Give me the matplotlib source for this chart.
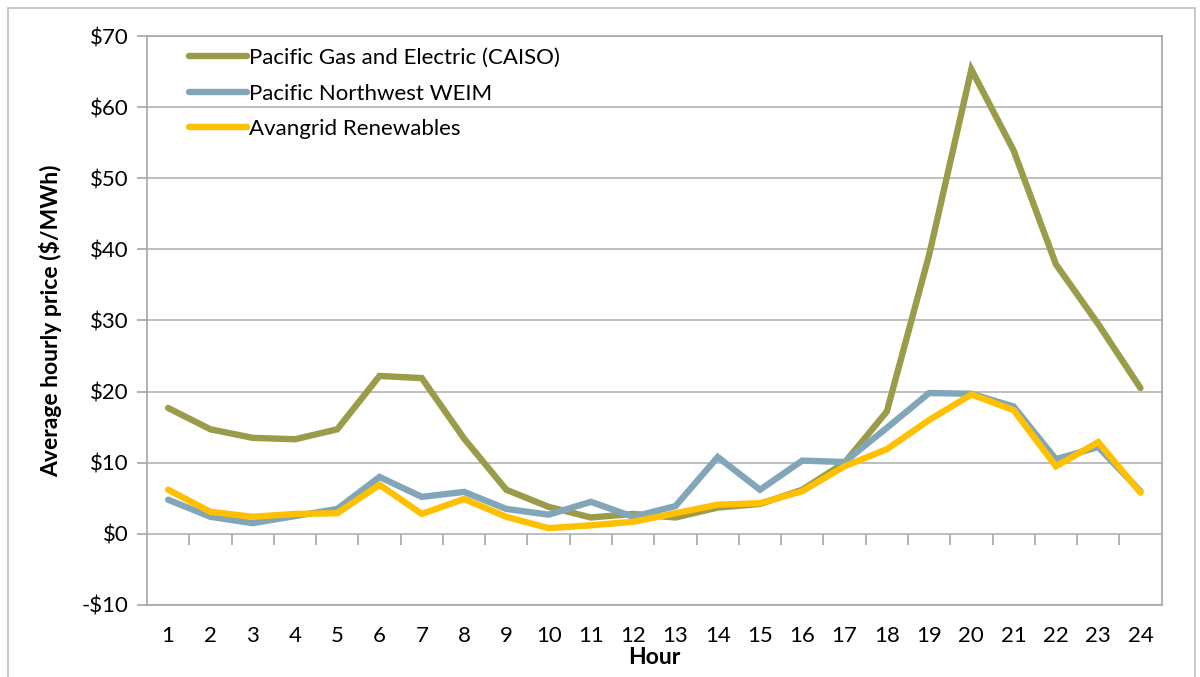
import matplotlib.pyplot as plt
from matplotlib.patches import Rectangle
import numpy as np

plt.rcParams['font.family'] = ['Lato', 'DejaVu Sans']

hours = list(range(1, 25))
pge = [17.7, 14.7, 13.5, 13.3, 14.7, 22.2, 21.9, 13.4, 6.2, 3.8, 2.3, 2.8,
       2.3, 3.7, 4.2, 6.2, 10.0, 17.2, 39.2, 65.3, 53.9, 37.9, 29.5, 20.5]
weim = [4.8, 2.4, 1.5, 2.5, 3.5, 8.0, 5.2, 5.9, 3.5, 2.7, 4.5, 2.4,
        3.9, 10.8, 6.2, 10.3, 10.1, 14.9, 19.8, 19.7, 17.9, 10.5, 12.2, 6.0]
avangrid = [6.2, 3.1, 2.4, 2.8, 2.9, 6.9, 2.8, 4.9, 2.4, 0.8, 1.2, 1.7,
            2.9, 4.1, 4.3, 6.0, 9.5, 11.9, 16.0, 19.6, 17.4, 9.5, 12.9, 5.8]
series_names = ['Pacific Gas and Electric (CAISO)', 'Pacific Northwest WEIM',
                'Avangrid Renewables']
colors = ['#9A9C4A', '#82A6B9', '#FFC000']
yticks = list(range(-10, 80, 10))
ytick_labels = ['-$10', '$0', '$10', '$20', '$30', '$40', '$50', '$60', '$70']

fig = plt.figure(figsize=(12, 6.77), dpi=100)
ax = fig.add_axes([0.1225, 0.1064, 0.8455, 0.8404])

# outer chart border
fig.patches.append(Rectangle((8 / 1200, -0.01), 1187 / 1200, 1 - 8 / 677 + 0.01,
                             transform=fig.transFigure, fill=False,
                             edgecolor='#BFBFBF', linewidth=1.2))

for vals, name, c in zip([pge, weim, avangrid], series_names, colors):
    ax.plot(hours, vals, color=c, linewidth=4.6, label=name,
            solid_capstyle='round', solid_joinstyle='miter')

ax.set_xlim(0.5, 24.5)
ax.set_ylim(-10, 70)
ax.set_yticks(yticks)
ax.set_yticklabels(ytick_labels)
ax.set_xticks(hours)
ax.set_xticklabels([str(h) for h in hours])
ax.grid(axis='y', color='#B3B3B3', linewidth=1.2)
ax.set_axisbelow(True)
ax.tick_params(axis='x', length=0, labelsize=16, pad=15)
ax.tick_params(axis='y', length=7, width=1.2, color='#A6A6A6', labelsize=16, pad=6)
for s in ax.spines.values():
    s.set_color('#A6A6A6')
    s.set_linewidth(1.2)

# category tick marks hanging from the $0 line
sec = ax.secondary_xaxis(10 / 80)
sec.set_xticks(np.arange(1.5, 24.5, 1))
sec.tick_params(axis='x', direction='out', length=8, width=1.2,
                color='#A6A6A6', labelbottom=False, labeltop=False,
                bottom=True, top=False)
sec.spines['bottom'].set_visible(False)
sec.spines['top'].set_visible(False)

ax.set_xlabel('Hour', fontsize=16.5, fontweight='bold', labelpad=1)
ax.set_ylabel('Average hourly price ($/MWh)', fontsize=16.5, fontweight='bold',
              labelpad=14)

ax.legend(loc='upper left', bbox_to_anchor=(0.022, 1.014), frameon=False,
          fontsize=16, handlelength=2.6, handletextpad=0.08, labelspacing=0.7)

fig.savefig('out.png', dpi=100)
